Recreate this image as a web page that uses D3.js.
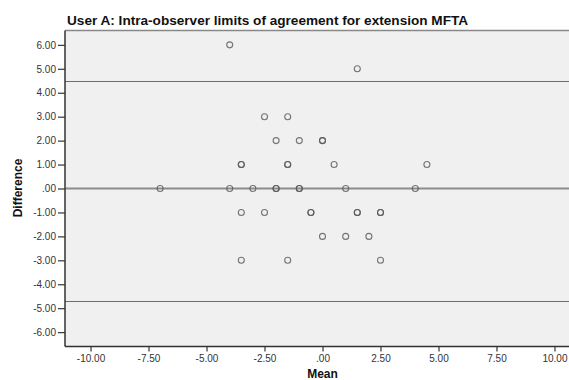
<!DOCTYPE html>
<html>
<head>
<meta charset="utf-8">
<script src="https://cdn.jsdelivr.net/npm/d3@7"></script>
<style>
body { margin: 0; background: #fff; }
svg text { font-family: "Liberation Sans", Arial, sans-serif; }
</style>
</head>
<body>
<svg id="chart"></svg>
<script>
// data: mean vs difference (repeated pairs are kept, they show up darker)
var meanVals = [-4, 1.5, -2.5, -1.5, -2, -1, 0, 0, -3.5, -3.5, -1.5, -1.5, 0.5, 4.5,
	-7, -4, -3, -2, -2, -1, -1, 1, 4,
	-3.5, -2.5, -0.5, -0.5, 1.5, 1.5, 2.5, 2.5,
	0, 1, 2, -3.5, -1.5, 2.5];
var diffVals = [6, 5, 3, 3, 2, 2, 2, 2, 1, 1, 1, 1, 1, 1,
	0, 0, 0, 0, 0, 0, 0, 0, 0,
	-1, -1, -1, -1, -1, -1, -1, -1,
	-2, -2, -2, -3, -3, -3];
var upperLimit = 4.51;
var lowerLimit = -4.72;
var refLine = 0;
var xTicks = [-10, -7.5, -5, -2.5, 0, 2.5, 5, 7.5, 10];
var yTicks = [-6, -5, -4, -3, -2, -1, 0, 1, 2, 3, 4, 5, 6];

var width = 569, height = 380;
var pLeft = 65, pTop = 30.5, pBottom = 346.5, pRight = 569;

var svg = d3.select('#chart').attr('width', width).attr('height', height);

var x = d3.scaleLinear().domain([-11.1, 11.1]).range([pLeft, pLeft + 2 * 257.5]);
var y = d3.scaleLinear().domain([-6.6, 6.6]).range([pBottom, pTop]);

// SPSS style labels: .00, -1.00
function fmt(d) {
	var s = Math.abs(d).toFixed(2).replace(/^0\./, '.');
	return (d < 0 ? '-' : '') + s;
}

svg.append('rect')
	.attr('x', pLeft).attr('y', pTop)
	.attr('width', pRight - pLeft).attr('height', pBottom - pTop)
	.attr('fill', '#f0f0f0');

// top border
svg.append('line')
	.attr('x1', pLeft).attr('x2', pRight)
	.attr('y1', pTop).attr('y2', pTop)
	.attr('stroke', '#888').attr('stroke-width', 1.5);

// limit lines
[upperLimit, lowerLimit].forEach(function (v) {
	svg.append('line')
		.attr('x1', pLeft).attr('x2', pRight)
		.attr('y1', Math.round(y(v)) + 0.5).attr('y2', Math.round(y(v)) + 0.5)
		.attr('stroke', '#5c5ced').attr('stroke-width', 1);
});

svg.append('line')
	.attr('x1', pLeft).attr('x2', pRight)
	.attr('y1', y(refLine)).attr('y2', y(refLine))
	.attr('stroke', '#8c8c8c').attr('stroke-width', 2);

// axes
var yAxis = d3.axisLeft(y).tickValues(yTicks).tickFormat(fmt).tickSize(7).tickPadding(2);
var gy = svg.append('g').attr('transform', 'translate(' + pLeft + ',0)').call(yAxis);
var xAxis = d3.axisBottom(x).tickValues(xTicks).tickFormat(fmt).tickSize(5).tickPadding(3);
var gx = svg.append('g').attr('transform', 'translate(0,' + pBottom + ')').call(xAxis);

[gx, gy].forEach(function (g) {
	g.select('.domain').remove();
	g.selectAll('line').attr('stroke', '#333').attr('stroke-width', 1.2);
	g.selectAll('text').attr('fill', '#333').style('font-size', '10px');
});

svg.append('line')
	.attr('x1', pLeft).attr('x2', pLeft).attr('y1', pTop).attr('y2', pBottom)
	.attr('stroke', '#333').attr('stroke-width', 1.5);
svg.append('line')
	.attr('x1', pLeft).attr('x2', pRight).attr('y1', pBottom).attr('y2', pBottom)
	.attr('stroke', '#333').attr('stroke-width', 1.5);

// points
svg.append('g').selectAll('circle')
	.data(meanVals)
	.enter().append('circle')
	.attr('cx', function (d) { return x(d); })
	.attr('cy', function (d, i) { return y(diffVals[i]); })
	.attr('r', 3)
	.attr('fill', 'none')
	.attr('stroke', '#555')
	.attr('stroke-width', 1.1)
	.attr('stroke-opacity', 0.8);

// titles
svg.append('text')
	.attr('x', 67).attr('y', 25)
	.style('font-size', '13.6px').style('font-weight', 'bold')
	.attr('fill', '#111')
	.text('User A: Intra-observer limits of agreement for extension MFTA');

svg.append('text')
	.attr('x', x(0)).attr('y', 378)
	.attr('text-anchor', 'middle')
	.style('font-size', '12px').style('font-weight', 'bold')
	.attr('fill', '#111')
	.text('Mean');

svg.append('text')
	.attr('transform', 'translate(22,' + 188 + ') rotate(-90)')
	.attr('text-anchor', 'middle')
	.style('font-size', '12px').style('font-weight', 'bold')
	.attr('fill', '#111')
	.text('Difference');
</script>
</body>
</html>
